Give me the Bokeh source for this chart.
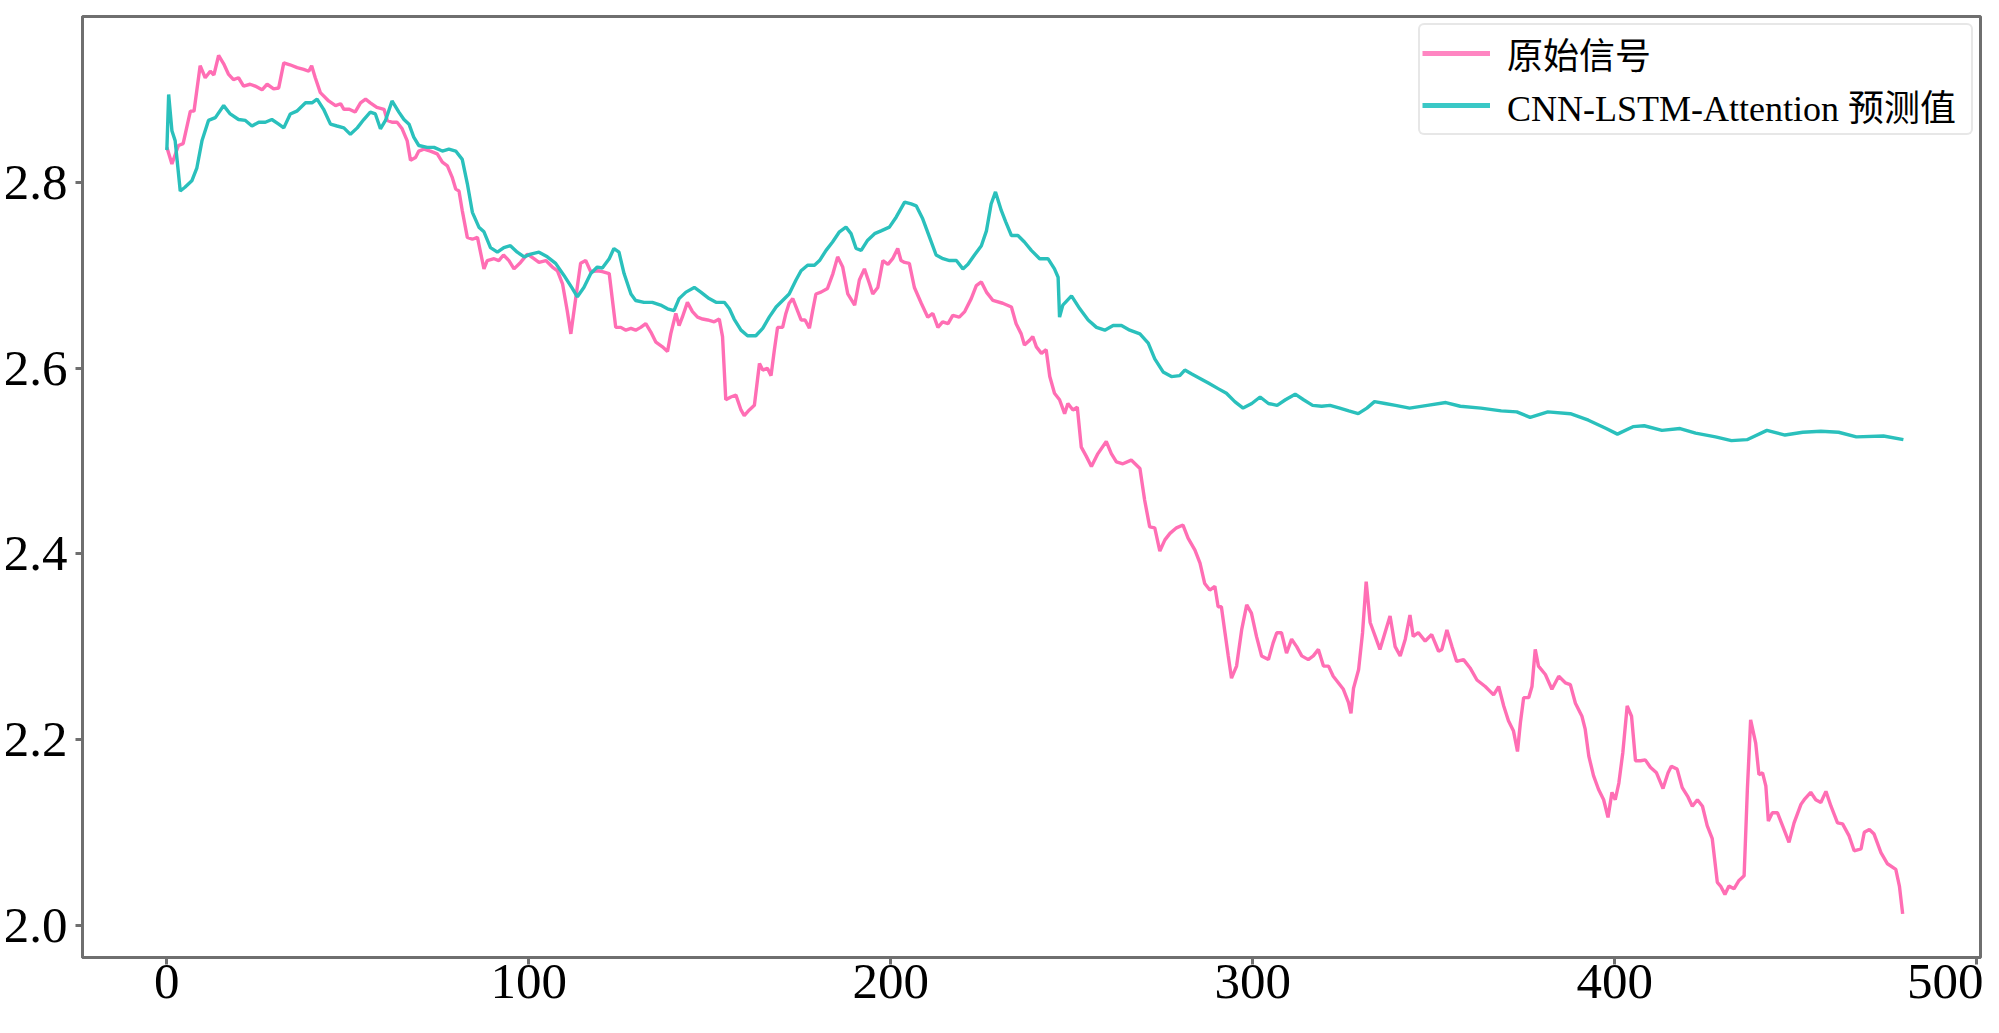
from bokeh.plotting import figure
from bokeh.models import Range1d, FixedTicker, PrintfTickFormatter, Legend, LegendItem
from bokeh.embed import file_html
from bokeh.resources import INLINE

# ---- data ----
orig_x = [0, 1.4, 3.2, 4.5, 6.5, 7.5, 9.2, 10.6, 12, 13, 14.3, 15.7, 17, 18.4, 19.8, 21.2, 23, 24.4, 26.3, 27.7,
          29.5, 30.9, 32.3, 34, 36, 37.8, 39.2, 40, 41, 42.4, 44.7, 46.6, 48, 48.9, 50.4, 52, 53.5, 54.9, 56.2, 58,
          60, 60.9, 62.2, 63.6, 65, 66.4, 67.3, 68.7, 69.6, 71, 72.8, 74.7, 76.1, 77.5, 78.8, 79.8, 80.7, 81.6, 83, 84.4,
          85.8, 87.6, 88.5, 90.4, 91.7, 93, 94.5, 95.9, 97.7, 99.6, 101.4, 102.8, 104.7, 106.5, 107.9, 109.3, 110.6, 111.6, 113, 114.3,
          115.7, 117.1, 119, 120.3, 122.2, 123.1, 124, 125.4, 126.8, 128.2, 129.5, 130.9, 132.3, 133.7, 135.1, 136.9, 138.3, 139.2, 140.6, 141.5,
          142.4, 143.8, 145.2, 146.6, 148, 149.4, 151.2, 152.6, 153.5, 154.4, 155.8, 157.2, 158.6, 159.5, 160.9, 162.3, 163.7, 164.6, 165.9, 166.9,
          167.8, 168.7, 170.1, 171, 171.9, 172.9, 173.8, 175.2, 176.3, 177.5, 178.4, 179.3, 180.7, 182.5, 184, 185.3, 186.7, 188.1, 190, 191.3,
          192.7, 194.1, 195, 196.4, 197.8, 199.2, 200.5, 201.9, 202.8, 203.8, 205.1, 206.5, 208.4, 210.2, 211.6, 213, 214.3, 215.8, 217.1, 218.9,
          220.4, 222.2, 223.6, 225, 226.4, 228.2, 230.9, 233.3, 234.6, 236, 236.9, 238.3, 239.2, 240.2, 241.6, 242.9, 243.9, 245.2, 246.6, 248,
          248.9, 250.3, 251.5, 252.6, 254, 255.4, 257.2, 259.5, 260.9, 262.3, 264.1, 266.4, 268.8, 270.1, 271.5, 272.9, 274.3, 275.7, 277.1, 278.9,
          280.7, 282.1, 284, 285.4, 286.7, 288.1, 289.5, 290.4, 291.3, 292.3, 293.2, 294.1, 295.5, 296.9, 298.3, 299.6, 301, 302.4, 304.3, 305.6,
          306.6, 307.9, 309.3, 310.7, 312.1, 313.5, 315.3, 316.7, 318.1, 319.5, 320.9, 322.2, 323.6, 325, 326.4, 327.1, 327.8, 329.2, 330.3, 331.3,
          332.4, 333.8, 335.1, 336.5, 337.9, 339.3, 340.7, 342.1, 343.4, 344.3, 345.7, 347.6, 349.4, 351.3, 352.2, 353.6, 355, 356.3, 358.2, 360,
          361.9, 364.2, 366.5, 367.9, 369.3, 370.6, 372, 373.1, 373.9, 374.8, 376.2, 377.1, 378, 378.9, 380.8, 382.6, 384.5, 386.3, 387.7, 389.1,
          390.9, 391.8, 392.8, 394.1, 395.5, 396.9, 398.1, 399.2, 400.1, 401.1, 402.2, 403.4, 404.6, 405.7, 407.1, 408.4, 409.8, 411.5, 413.3, 414.7,
          415.6, 417.2, 418.6, 420.2, 421.4, 422.8, 424.2, 425.5, 426.9, 428.3, 429.2, 430.4, 431.5, 432.9, 434.3, 435.7, 436.6, 437.5, 438.9, 439.8,
          440.8, 441.7, 442.4, 443.5, 444.9, 446.3, 448.1, 449.5, 451.4, 452.3, 454.1, 455.5, 456.9, 458.3, 459.7, 461.5, 462.9, 464.7, 466.1, 468,
          468.9, 470.3, 471.6, 473.5, 475.3, 477.6, 478.6, 479.5]
orig_y = [2.838, 2.82, 2.84, 2.842, 2.877, 2.877, 2.926, 2.913, 2.92, 2.916, 2.937, 2.928, 2.917, 2.911, 2.913, 2.904, 2.906, 2.904, 2.9, 2.906,
          2.901, 2.902, 2.929, 2.927, 2.924, 2.922, 2.92, 2.926, 2.913, 2.897, 2.888, 2.883, 2.885, 2.879, 2.879, 2.876, 2.886, 2.89, 2.886, 2.881,
          2.879, 2.867, 2.865, 2.865, 2.858, 2.845, 2.824, 2.827, 2.834, 2.836, 2.834, 2.831, 2.822, 2.818, 2.806, 2.793, 2.791, 2.77, 2.741, 2.739,
          2.741, 2.707, 2.716, 2.718, 2.716, 2.722, 2.716, 2.707, 2.714, 2.723, 2.718, 2.714, 2.716, 2.709, 2.705, 2.691, 2.662, 2.637, 2.677, 2.713,
          2.716, 2.704, 2.705, 2.704, 2.702, 2.673, 2.644, 2.644, 2.641, 2.643, 2.641, 2.644, 2.648, 2.639, 2.628, 2.623, 2.618, 2.637, 2.659, 2.646,
          2.655, 2.671, 2.661, 2.655, 2.653, 2.652, 2.65, 2.653, 2.634, 2.566, 2.569, 2.571, 2.555, 2.549, 2.555, 2.56, 2.605, 2.598, 2.6, 2.592,
          2.619, 2.644, 2.644, 2.659, 2.67, 2.675, 2.666, 2.652, 2.652, 2.643, 2.662, 2.68, 2.682, 2.686, 2.702, 2.72, 2.709, 2.68, 2.668, 2.695,
          2.707, 2.691, 2.68, 2.687, 2.716, 2.712, 2.718, 2.729, 2.716, 2.714, 2.713, 2.687, 2.67, 2.655, 2.659, 2.644, 2.65, 2.648, 2.657, 2.655,
          2.661, 2.675, 2.689, 2.693, 2.682, 2.673, 2.67, 2.666, 2.648, 2.637, 2.625, 2.63, 2.634, 2.623, 2.616, 2.62, 2.591, 2.573, 2.566, 2.551,
          2.562, 2.555, 2.558, 2.515, 2.505, 2.494, 2.508, 2.521, 2.508, 2.499, 2.497, 2.501, 2.492, 2.458, 2.429, 2.428, 2.403, 2.415, 2.422, 2.428,
          2.431, 2.417, 2.404, 2.39, 2.368, 2.361, 2.365, 2.343, 2.343, 2.315, 2.29, 2.266, 2.279, 2.318, 2.345, 2.336, 2.311, 2.29, 2.286, 2.304,
          2.315, 2.315, 2.293, 2.308, 2.3, 2.29, 2.286, 2.29, 2.297, 2.279, 2.279, 2.268, 2.261, 2.254, 2.24, 2.228, 2.255, 2.275, 2.315, 2.37,
          2.326, 2.311, 2.297, 2.315, 2.333, 2.3, 2.29, 2.308, 2.334, 2.311, 2.315, 2.306, 2.313, 2.295, 2.297, 2.318, 2.3, 2.284, 2.286, 2.277,
          2.264, 2.257, 2.248, 2.257, 2.236, 2.22, 2.209, 2.187, 2.218, 2.245, 2.245, 2.257, 2.297, 2.279, 2.27, 2.254, 2.268, 2.261, 2.259, 2.239,
          2.225, 2.211, 2.182, 2.161, 2.146, 2.135, 2.116, 2.143, 2.135, 2.153, 2.186, 2.236, 2.225, 2.177, 2.177, 2.178, 2.17, 2.164, 2.147, 2.164,
          2.171, 2.168, 2.148, 2.138, 2.128, 2.135, 2.128, 2.107, 2.093, 2.046, 2.042, 2.033, 2.042, 2.039, 2.048, 2.053, 2.146, 2.221, 2.196, 2.162,
          2.164, 2.15, 2.112, 2.121, 2.121, 2.107, 2.089, 2.11, 2.13, 2.135, 2.143, 2.135, 2.132, 2.144, 2.128, 2.11, 2.109, 2.096, 2.08, 2.082,
          2.1, 2.103, 2.098, 2.078, 2.066, 2.06, 2.042, 2.012]

pred_x = [0, 0.5, 1.4, 2.3, 3.7, 5, 6.9, 8.3, 9.7, 11.5, 13.4, 15.7, 17.5, 19.8, 21.7, 23.5, 25.4, 27.2, 29, 30.9,
          32.3, 34.1, 35.9, 38.3, 40.1, 41.5, 43.3, 45.2, 47, 48.9, 50.7, 52.6, 54.4, 56.2, 57.6, 59, 60.4, 62.2, 64.1, 65.5,
          66.9, 68.2, 69.6, 71.9, 73.8, 76.1, 77.9, 79.8, 81.6, 83, 84.4, 86.2, 87.6, 89.4, 91.3, 93.1, 94.9, 96.8, 98.7, 100.5,
          102.8, 105.1, 107.4, 109.7, 112, 113.4, 115.2, 117.1, 118.9, 120.3, 122.2, 123.5, 124.9, 126.3, 128.2, 129.5, 131.8, 134.1, 136.4, 138.3,
          140.1, 141.5, 143.4, 145.7, 147.5, 149.8, 151.7, 154, 155.4, 156.7, 158.6, 160.4, 162.7, 164.6, 166.4, 168.3, 170.1, 171.9, 173.8, 175.2,
          177, 178.9, 180.3, 182.1, 183.9, 185.8, 187.6, 189, 190.4, 191.8, 193.6, 195.5, 197.3, 199.6, 201.5, 203.8, 205.6, 207, 208.8, 210.7,
          212.5, 214.4, 216.2, 218.1, 219.9, 221.3, 223.1, 225, 226.4, 227.7, 228.9, 230.5, 231.7, 233.3, 235.1, 236.9, 238.8, 241.1, 243.4, 245.2,
          246.2, 246.6, 247.5, 249.9, 252.2, 254.5, 256.8, 259.1, 261.4, 263.7, 266, 268.8, 271.1, 272.9, 275.2, 277.5, 279.8, 281.2, 283, 285.4,
          287.7, 290.4, 292.7, 295, 297.3, 299.7, 302, 304.3, 306.7, 309, 311.7, 314, 316.5, 319, 321.3, 324, 326.5, 329.1, 331.5, 333.6,
          336.5, 339.4, 343.3, 348.2, 353.3, 357.3, 363, 368.6, 372.9, 376.6, 381.5, 387.7, 392.7, 397.6, 400.7, 405, 408.1, 413, 418, 422.3,
          427.8, 432.2, 436.5, 442, 447, 451.9, 456.9, 461.8, 466.7, 474.2, 479.7]
pred_y = [2.835, 2.895, 2.856, 2.845, 2.791, 2.795, 2.802, 2.816, 2.845, 2.867, 2.87, 2.883, 2.874, 2.868, 2.867, 2.861, 2.865, 2.865, 2.868, 2.863,
          2.859, 2.874, 2.877, 2.886, 2.886, 2.89, 2.879, 2.863, 2.861, 2.859, 2.852, 2.859, 2.868, 2.876, 2.874, 2.858, 2.867, 2.888, 2.876, 2.868,
          2.863, 2.849, 2.84, 2.838, 2.838, 2.834, 2.836, 2.834, 2.825, 2.799, 2.768, 2.752, 2.747, 2.73, 2.725, 2.73, 2.732, 2.725, 2.72, 2.723,
          2.725, 2.72, 2.713, 2.7, 2.686, 2.677, 2.687, 2.702, 2.709, 2.708, 2.718, 2.729, 2.725, 2.702, 2.68, 2.673, 2.671, 2.671, 2.668, 2.664,
          2.662, 2.675, 2.682, 2.687, 2.682, 2.675, 2.671, 2.671, 2.664, 2.653, 2.641, 2.635, 2.635, 2.643, 2.655, 2.666, 2.673, 2.68, 2.695, 2.705,
          2.711, 2.711, 2.716, 2.727, 2.736, 2.747, 2.752, 2.745, 2.729, 2.727, 2.738, 2.745, 2.748, 2.752, 2.763, 2.779, 2.777, 2.775, 2.761, 2.741,
          2.722, 2.718, 2.716, 2.716, 2.707, 2.712, 2.722, 2.732, 2.748, 2.777, 2.79, 2.77, 2.758, 2.743, 2.743, 2.736, 2.727, 2.718, 2.718, 2.707,
          2.698, 2.655, 2.668, 2.678, 2.664, 2.652, 2.644, 2.641, 2.646, 2.646, 2.641, 2.637, 2.627, 2.61, 2.596, 2.591, 2.592, 2.598, 2.594, 2.589,
          2.584, 2.578, 2.573, 2.564, 2.557, 2.562, 2.569, 2.562, 2.56, 2.566, 2.572, 2.566, 2.56, 2.559, 2.56, 2.557, 2.554, 2.551, 2.557, 2.564,
          2.562, 2.56, 2.557, 2.56, 2.563, 2.559, 2.557, 2.554, 2.553, 2.547, 2.553, 2.551, 2.544, 2.535, 2.529, 2.537, 2.538, 2.533, 2.535, 2.53,
          2.526, 2.522, 2.523, 2.533, 2.528, 2.531, 2.532, 2.531, 2.526, 2.527, 2.523]

x_ticks = [0, 100, 200, 300, 400, 500]
y_ticks = [2.0, 2.2, 2.4, 2.6, 2.8]
labels = ["原始信号", "CNN-LSTM-Attention 预测值"]

PINK = "#ff6eb4"
CYAN = "#2ac0bc"
AX = "#6f6f6f"
TICK_FONT = "Liberation Serif"
LEG_FONT = "Liberation Serif, Noto Sans CJK SC"
NAN = float("nan")

p = figure(width=1983, height=1017, output_backend="svg", toolbar_location=None,
           x_range=Range1d(-23.3, 501), y_range=Range1d(1.965, 2.979),
           min_border_left=81, min_border_right=3, min_border_top=16, min_border_bottom=60,
           background_fill_color="white", border_fill_color="white")

p.line(orig_x, orig_y, line_color=PINK, line_width=3.4)
p.line(pred_x, pred_y, line_color=CYAN, line_width=3.4)

# legend-only renderers (thicker swatches like the reference), no visible data
leg_pink = p.line([NAN], [NAN], line_color="#ff86c2", line_width=5)
leg_cyan = p.line([NAN], [NAN], line_color="#3ac8c6", line_width=5)

p.grid.visible = False
p.outline_line_color = AX
p.outline_line_width = 3
p.outline_line_alpha = 1

for ax in (p.xaxis[0], p.yaxis[0]):
    ax.axis_line_color = AX
    ax.axis_line_width = 3
    ax.major_tick_line_color = AX
    ax.major_tick_line_width = 3
    ax.major_tick_out = 7
    ax.major_tick_in = 0
    ax.minor_tick_line_color = None
    ax.major_label_text_font = TICK_FONT
    ax.major_label_text_font_size = "51px"
    ax.major_label_text_color = "black"

p.xaxis.ticker = FixedTicker(ticks=x_ticks)
p.yaxis.ticker = FixedTicker(ticks=y_ticks)
p.yaxis.formatter = PrintfTickFormatter(format="%.1f")
p.xaxis.major_label_standoff = 0
p.yaxis.major_label_standoff = 8

legend = Legend(items=[LegendItem(label=labels[0], renderers=[leg_pink]),
                       LegendItem(label=labels[1], renderers=[leg_cyan])],
                location="top_right")
legend.label_text_font = LEG_FONT
legend.label_text_font_size = "36px"
legend.label_text_color = "black"
legend.glyph_width = 68
legend.glyph_height = 30
legend.label_height = 30
legend.label_width = 462
legend.label_standoff = 17
legend.spacing = -10
legend.padding = 2
legend.margin = 7
legend.border_line_color = "#d0d0d0"
legend.border_line_width = 2
legend.background_fill_color = "white"
legend.background_fill_alpha = 0.85
if "border_radius" in legend.properties():
    legend.border_radius = 6
p.add_layout(legend)

open("out.html", "w").write(file_html(p, INLINE))
